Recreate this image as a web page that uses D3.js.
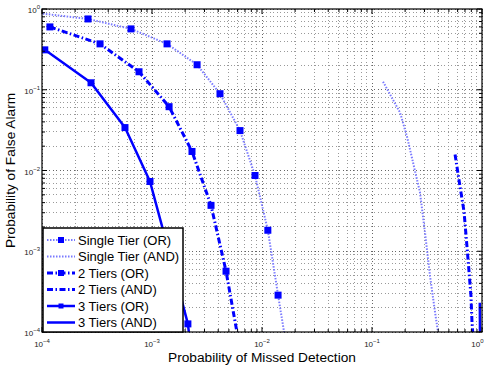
<!DOCTYPE html>
<html><head><meta charset="utf-8">
<script src="https://cdn.jsdelivr.net/npm/d3@7"></script>
<style>
html,body{margin:0;padding:0;background:#fff;}
svg{display:block;font-family:"Liberation Sans",Arial,sans-serif;}
</style></head>
<body>
<svg id="chart" width="484" height="371"></svg>
<script>
// ---- data ----
const xTickExps = [-4, -3, -2, -1, 0];
const yTickExps = [-4, -3, -2, -1, 0];
const xLabel = "Probability of Missed Detection";
const yLabel = "Probability of False Alarm";
const seriesNames = ["Single Tier (OR)", "Single Tier (AND)", "2 Tiers (OR)", "2 Tiers (AND)", "3 Tiers (OR)", "3 Tiers (AND)"];

const singleOrX = [7e-5, 2.62e-4, 6.44e-4, 1.37e-3, 2.57e-3, 4.15e-3, 6.31e-3, 8.64e-3, 1.13e-2, 1.40e-2, 1.8e-2];
const singleOrY = [0.93, 0.753, 0.567, 0.370, 0.204, 0.0893, 0.0312, 8.67e-3, 1.82e-3, 2.86e-4, 3.5e-5];
const singleAndX = [0.126, 0.18, 0.208, 0.236, 0.273, 0.303, 0.337, 0.374, 0.398, 0.41];
const singleAndY = [0.126, 0.052, 0.0263, 0.0126, 5.35e-3, 1.72e-3, 4.91e-4, 1.77e-4, 1e-4, 7e-5];
const twoOrX = [1.18e-4, 3.37e-4, 7.62e-4, 1.43e-3, 2.31e-3, 3.44e-3, 4.71e-3, 6.2e-3];
const twoOrY = [0.6, 0.37, 0.167, 0.0617, 0.0172, 3.70e-3, 5.66e-4, 7e-5];
const twoAndX = [0.569, 0.631, 0.686, 0.731, 0.763, 0.794, 0.811, 0.83];
const twoAndY = [0.0158, 6.34e-3, 3.12e-3, 1.12e-3, 5.5e-4, 2.78e-4, 1.33e-4, 8.5e-5];
const threeOrX = [1.06e-4, 2.79e-4, 5.68e-4, 9.59e-4, 1.43e-3, 2.12e-3, 2.4e-3];
const threeOrY = [0.312, 0.122, 0.034, 7.31e-3, 9.7e-4, 1.26e-4, 3e-5];
const threeAndX = [0.955, 0.962];
const threeAndY = [2.3e-4, 5e-5];

// ---- styles ----
const styles = [
  {xs: singleOrX, ys: singleOrY, color: "#7a7aff", width: 2, dash: "1.5,1.5", marker: 7, legMarker: 6},
  {xs: singleAndX, ys: singleAndY, color: "#7a7aff", width: 2, dash: "1.5,1.5", marker: 0},
  {xs: twoOrX, ys: twoOrY, color: "#0000ff", width: 3, dash: "6,2.5,1.5,2.5", marker: 7, legMarker: 6},
  {xs: twoAndX, ys: twoAndY, color: "#0000ff", width: 3, dash: "6,2.5,1.5,2.5", marker: 0},
  {xs: threeOrX, ys: threeOrY, color: "#0000ff", width: 2.5, dash: null, marker: 7, legMarker: 5},
  {xs: threeAndX, ys: threeAndY, color: "#0000ff", width: 2.5, dash: null, marker: 0}
];

const svg = d3.select("#chart");
const L = 42, R = 482, T = 9, B = 332;
const x = d3.scaleLog().domain([1e-4, 1]).range([L, R]);
const y = d3.scaleLog().domain([1e-4, 1]).range([B, T]);

// grid
const minorX = x.ticks(), minorY = y.ticks();
const isMajor = v => Math.abs(Math.log10(v) - Math.round(Math.log10(v))) < 1e-9;
const grid = svg.append("g");
minorX.forEach(v => {
  grid.append("line").attr("x1", x(v)).attr("x2", x(v)).attr("y1", T).attr("y2", B)
    .attr("stroke", isMajor(v) ? "#666" : "#999").attr("stroke-width", 1).attr("stroke-dasharray", "1,2.5")
    .attr("shape-rendering", "crispEdges");
});
minorY.forEach(v => {
  grid.append("line").attr("y1", y(v)).attr("y2", y(v)).attr("x1", L).attr("x2", R)
    .attr("stroke", isMajor(v) ? "#666" : "#999").attr("stroke-width", 1).attr("stroke-dasharray", "1,2.5")
    .attr("shape-rendering", "crispEdges");
});

// clip
svg.append("clipPath").attr("id", "clip").append("rect")
  .attr("x", L).attr("y", T).attr("width", R - L).attr("height", B - T);

const plot = svg.append("g").attr("clip-path", "url(#clip)");
const line = d3.line().x(d => x(d[0])).y(d => y(d[1]));
styles.forEach(s => {
  const pts = s.xs.map((v, i) => [v, s.ys[i]]);
  const p = plot.append("path").attr("d", line(pts)).attr("fill", "none")
    .attr("stroke", s.color).attr("stroke-width", s.width).attr("stroke-linejoin", "round");
  if (s.dash) p.attr("stroke-dasharray", s.dash);
  if (s.marker) {
    plot.selectAll(null).data(pts).enter().append("rect")
      .attr("x", d => x(d[0]) - s.marker / 2).attr("y", d => y(d[1]) - s.marker / 2)
      .attr("width", s.marker).attr("height", s.marker).attr("fill", "#0000ff");
  }
});

// axes box
svg.append("rect").attr("x", L).attr("y", T).attr("width", R - L).attr("height", B - T)
  .attr("fill", "none").attr("stroke", "#000").attr("stroke-width", 1.2);

// ticks (inward, all sides)
const tk = svg.append("g").attr("stroke", "#000").attr("stroke-width", 1);
minorX.forEach(v => {
  const len = isMajor(v) ? 5 : 3;
  tk.append("line").attr("x1", x(v)).attr("x2", x(v)).attr("y1", B).attr("y2", B - len);
  tk.append("line").attr("x1", x(v)).attr("x2", x(v)).attr("y1", T).attr("y2", T + len);
});
minorY.forEach(v => {
  const len = isMajor(v) ? 5 : 3;
  tk.append("line").attr("y1", y(v)).attr("y2", y(v)).attr("x1", L).attr("x2", L + len);
  tk.append("line").attr("y1", y(v)).attr("y2", y(v)).attr("x1", R).attr("x2", R - len);
});

// tick labels
xTickExps.forEach(e => {
  const last = e === 0;
  const t = svg.append("text").attr("x", last ? 483.5 : x(Math.pow(10, e))).attr("y", 347)
    .attr("text-anchor", last ? "end" : "middle").attr("font-size", 8).attr("fill", "#222");
  t.append("tspan").text("10");
  t.append("tspan").attr("dy", -4).attr("font-size", 6).text(e === 0 ? "0" : "\u2212" + (-e));
});
yTickExps.forEach(e => {
  const t = svg.append("text").attr("x", 40).attr("y", y(Math.pow(10, e)) + 4)
    .attr("text-anchor", "end").attr("font-size", 8).attr("fill", "#222");
  t.append("tspan").text("10");
  t.append("tspan").attr("dy", -4).attr("font-size", 6).text(e === 0 ? "0" : "\u2212" + (-e));
});

// axis labels
svg.append("text").attr("x", (L + R) / 2).attr("y", 362).attr("text-anchor", "middle")
  .attr("font-size", 13.7).attr("fill", "#000").text(xLabel);
svg.append("text").attr("transform", `translate(15,${(T + B) / 2}) rotate(-90)`)
  .attr("text-anchor", "middle").attr("font-size", 13.7).attr("fill", "#000").text(yLabel);

// legend
const lg = svg.append("g");
lg.append("rect").attr("x", 43).attr("y", 228).attr("width", 140).attr("height", 104)
  .attr("fill", "#fff").attr("stroke", "#000").attr("stroke-width", 1.5);
seriesNames.forEach((name, i) => {
  const s = styles[i];
  const cy = 240 + i * 16.5;
  const l = lg.append("line").attr("x1", 47).attr("x2", 75).attr("y1", cy).attr("y2", cy)
    .attr("stroke", s.color).attr("stroke-width", s.width);
  if (s.dash) l.attr("stroke-dasharray", s.dash);
  if (s.marker) {
    lg.append("rect").attr("x", 61 - s.legMarker / 2).attr("y", cy - s.legMarker / 2)
      .attr("width", s.legMarker).attr("height", s.legMarker).attr("fill", "#0000ff");
  }
  lg.append("text").attr("x", 78).attr("y", cy + 4.5).attr("font-size", 13).attr("fill", "#000").text(name);
});
</script>
</body></html>
